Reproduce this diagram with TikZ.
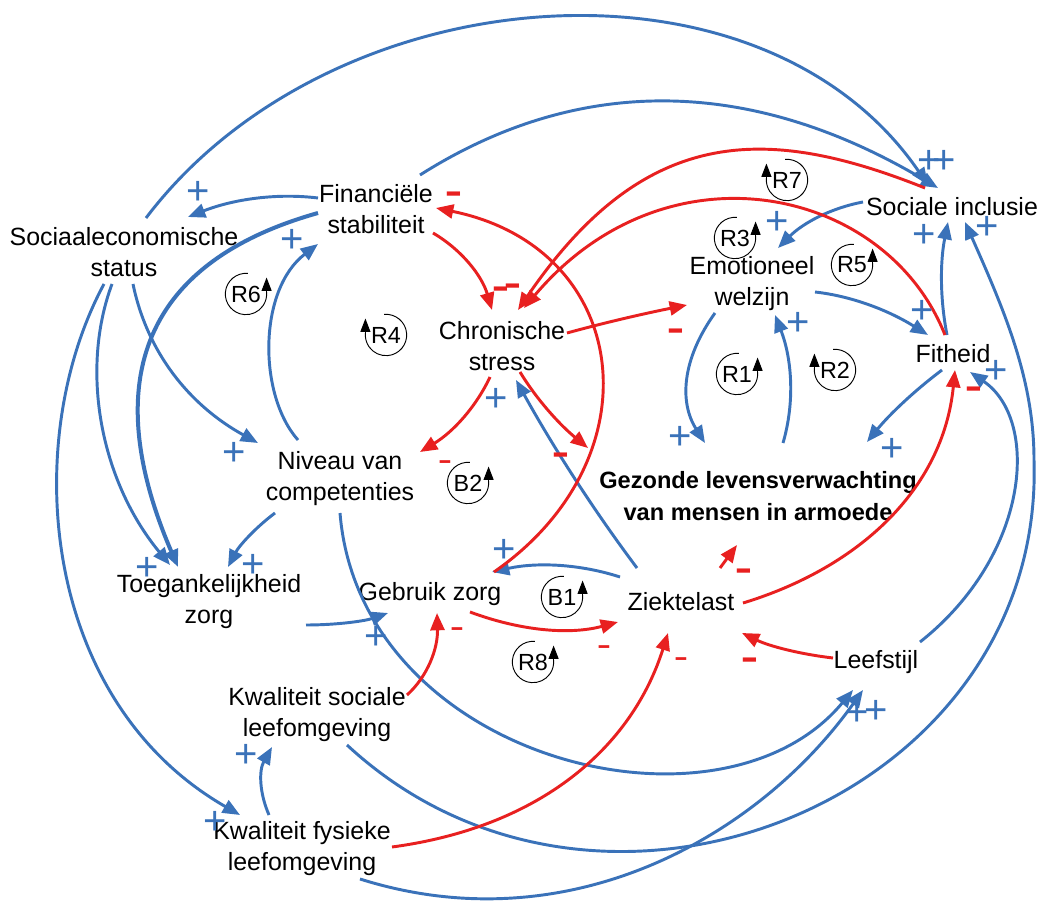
\documentclass[tikz,border=0pt]{standalone}
\usepackage{fontspec}
\setmainfont{Liberation Sans}
\usepackage{graphicx}
\usetikzlibrary{arrows.meta,calc}
\definecolor{cblue}{RGB}{58,114,185}
\definecolor{cred}{RGB}{232,32,32}
\begin{document}
\begin{tikzpicture}[x=0.75pt,y=-0.75pt,
  varnode/.style={font=\fontsize{18.7}{23.3}\selectfont, align=center, inner sep=0pt},
  goalnode/.style={font=\fontsize{17.7}{24.5}\selectfont\bfseries, align=center, inner sep=0pt},
  poslink/.style={draw=cblue, line width=2.2pt, -{Triangle[length=13pt,width=10.5pt]}},
  poslinkthick/.style={poslink, line width=3pt},
  neglink/.style={draw=cred, line width=2.2pt, -{Triangle[length=13pt,width=10.5pt]}},
  plussign/.style={text=cblue, font=\fontsize{30}{30}\selectfont, inner sep=0pt},
  minussign/.style={text=cred, font=\fontsize{20}{20}\selectfont\bfseries, inner sep=0pt},
  minusthin/.style={text=cred, font=\fontsize{16}{16}\selectfont\bfseries, inner sep=0pt},
  loopline/.style={draw=black, line width=0.7pt},
  looptip/.style={draw=black, line width=0.7pt, -{Triangle[length=10pt,width=7.5pt]}},
  looptext/.style={font=\fontsize{17.5}{20}\selectfont, inner sep=0pt},
  pics/loopL/.style={code={
    \draw[loopline] (95:15.5pt) arc[start angle=95,end angle=-185,radius=15.5pt];
    \draw[looptip] (175:15.5pt) -- ++(0pt,11pt);
    \node[looptext] (-t) at (0,0) {#1};
  }},
  pics/loopR/.style={code={
    \draw[loopline] (85:15.5pt) arc[start angle=85,end angle=365,radius=15.5pt];
    \draw[looptip] (5:15.5pt) -- ++(0pt,11pt);
    \node[looptext] (-t) at (0,0) {#1};
  }},
]
\useasboundingbox[fill=white] (0,0) rectangle (1042,912);

% variables
\node[varnode] (ses) at (124,252) {Sociaaleconomische\\status};
\node[varnode] (fin) at (376,209) {Financiële\\stabiliteit};
\node[varnode] (soc) at (952,207) {Sociale inclusie};
\node[varnode] (emo) at (752,284) {Emotioneel\\welzijn};
\node[varnode] (chr) at (502,346) {Chronische\\stress};
\node[varnode] (fit) at (953,354) {Fitheid};
\node[varnode] (niv) at (340,479) {Niveau van\\competenties};
\node[goalnode] (gez) at (758,496) {Gezonde levensverwachting\\van mensen in armoede};
\node[varnode] (toe) at (209,602) {Toegankelijkheid\\zorg};
\node[varnode] (geb) at (430,594) {Gebruik zorg};
\node[varnode] (zie) at (681,602) {Ziektelast};
\node[varnode] (lee) at (876,662) {Leefstijl};
\node[varnode] (kso) at (317,715) {Kwaliteit sociale\\leefomgeving};
\node[varnode] (kfy) at (302,849) {Kwaliteit fysieke\\leefomgeving};

% positive links
\draw[poslink] ($(ses)+(22,-34)$) .. controls (330,-25) and (760,-60) .. ($(soc)+(-24,-22)$);
\draw[poslink] ($(fin)+(44,-34)$) .. controls (581,73) and (753,78) .. ($(soc)+(-14,-19)$);
\draw[poslink] ($(fin)+(-58,-11)$) .. controls (277,193) and (234,199) .. ($(ses)+(64,-35)$);
\draw[poslinkthick] ($(fin)+(-58,4)$) .. controls (126,267) and (106,400) .. ($(toe)+(-31,-35)$);
\draw[poslink] ($(ses)+(-12,32)$) .. controls (80,370) and (100,480) .. ($(toe)+(-39,-37)$);
\draw[poslink] ($(ses)+(9,32)$) .. controls (147,352) and (189,405) .. ($(niv)+(-82,-36)$);
\draw[poslink] ($(ses)+(-20,32)$) .. controls (20,440) and (40,700) .. ($(kfy)+(-62,-34)$);
\draw[poslink] ($(niv)+(-42,-39)$) .. controls (258,395) and (258,290) .. ($(fin)+(-58,35)$);
\draw[poslink] ($(niv)+(-65,34)$) .. controls (255,528) and (239,546) .. ($(toe)+(19,-35)$);
\draw[poslink] ($(niv)+(0,34)$) .. controls (360,760) and (720,850) .. ($(lee)+(-23,28)$);
\draw[poslink] ($(kso)+(30,30)$) .. controls (600,980) and (1045,800) .. (1034,460)
  .. controls (1034,380) and (1005,312) .. ($(soc)+(13,15)$);
\draw[poslink] ($(kfy)+(58,30)$) .. controls (569,945) and (759,836) .. ($(lee)+(-13,28)$);
\draw[poslink] ($(kfy)+(-33,-34)$) .. controls (259,792) and (259,770) .. ($(kso)+(-45,32)$);
\draw[poslink] ($(toe)+(97,23)$) .. controls (337,625) and (365,621) .. ($(geb)+(-42,19)$);
\draw[poslink] ($(zie)+(-61,-25)$) .. controls (580,564) and (537,562) .. ($(geb)+(62,-22)$);
\draw[poslink] ($(zie)+(-44,-34)$) .. controls (592,508) and (552,445) .. ($(chr)+(14,34)$);
\draw[poslink] ($(emo)+(-37,29)$) .. controls (682,359) and (679,402) .. ($(gez)+(-53,-53)$);
\draw[poslink] ($(gez)+(25,-53)$) .. controls (795,402) and (792,359) .. ($(emo)+(23,31)$);
\draw[poslink] ($(emo)+(63,8)$) .. controls (851,296) and (888,310) .. ($(fit)+(-25,-19)$);
\draw[poslink] ($(fit)+(-11,16)$) .. controls (914,391) and (889,415) .. ($(gez)+(109,-54)$);
\draw[poslink] ($(fit)+(-6,-19)$) .. controls (940,299) and (940,262) .. ($(soc)+(-4,15)$);
\draw[poslink] ($(soc)+(-89,-5)$) .. controls (831,208) and (803,223) .. ($(emo)+(26,-36)$);
\draw[poslink] ($(lee)+(44,-20)$) .. controls (1030,555) and (1040,420) .. ($(fit)+(17,18)$);

% negative links
\draw[neglink] ($(fin)+(57,24)$) .. controls (462,250) and (482,276) .. ($(chr)+(-10,-36)$);
\draw[neglink] ($(geb)+(64,-22)$) .. controls (658,458) and (632,248) .. ($(fin)+(60,-1)$);
\draw[neglink] ($(soc)+(-27,-19)$) .. controls (767,125) and (645,124) .. ($(chr)+(16,-36)$);
\draw[neglink] ($(fit)+(-8,-19)$) .. controls (886,186) and (667,139) .. ($(chr)+(22,-38)$);
\draw[neglink] ($(chr)+(65,-13)$) .. controls (607,322) and (647,313) .. ($(emo)+(-65,21)$);
\draw[neglink] ($(chr)+(-12,31)$) .. controls (476,407) and (453,432) .. ($(niv)+(80,-27)$);
\draw[neglink] ($(chr)+(18,26)$) .. controls (537,400) and (560,425) .. ($(gez)+(-170,-48)$);
\draw[neglink] ($(zie)+(39,-34)$) -- ($(gez)+(-21,49)$);
\draw[neglink] ($(zie)+(62,1)$) .. controls (858,568) and (943,490) .. ($(fit)+(2,16)$);
\draw[neglink] ($(geb)+(40,18)$) .. controls (521,631) and (570,635) .. ($(zie)+(-63,20)$);
\draw[neglink] ($(kso)+(90,-20)$) .. controls (428,676) and (438,648) .. ($(geb)+(7,19)$);
\draw[neglink] ($(kfy)+(90,-2)$) .. controls (541,827) and (632,747) .. ($(zie)+(-13,31)$);
\draw[neglink] ($(lee)+(-43,-4)$) .. controls (799,654) and (769,646) .. ($(zie)+(61,31)$);

% polarity signs
\node[plussign] (p1) at (198,193) {+};
\node[plussign] (p2) at (292,241) {+};
\node[plussign] (p3) at (234,454) {+};
\node[plussign] (p4) at (147,569) {+};
\node[plussign] (p5) at (253,566) {+};
\node[plussign] (p6) at (376,638) {+};
\node[plussign] (p7) at (504,551) {+};
\node[plussign] (p8) at (496,400) {+};
\node[plussign] (p9) at (246,756) {+};
\node[plussign] (p10) at (215,823) {+};
\node[plussign] (p11) at (680,438) {+};
\node[plussign] (p12) at (798,324) {+};
\node[plussign] (p13) at (922,312) {+};
\node[plussign] (p14) at (892,450) {+};
\node[plussign] (p15) at (924,236) {+};
\node[plussign] (p16) at (987,228) {+};
\node[plussign] (p17) at (777,223) {+};
\node[plussign] (p18) at (929,162) {+};
\node[plussign] (p19) at (944,162) {+};
\node[plussign] (p20) at (996,372) {+};
\node[plussign] (p21) at (857,714) {+};
\node[plussign] (p22) at (876,712) {+};

\node[minussign] (m1) at (454,199) {\scalebox{1}[1.6]{–}};
\node[minussign] (m2) at (501,294) {\scalebox{1}[1.6]{–}};
\node[minussign] (m3) at (513,291) {\scalebox{1}[1.6]{–}};
\node[minussign] (m4) at (676,336) {\scalebox{1}[1.6]{–}};
\node[minusthin] (m5) at (445,465) {\scalebox{1}[1.3]{–}};
\node[minussign] (m6) at (561,460) {\scalebox{1}[1.6]{–}};
\node[minussign] (m7) at (744,576) {\scalebox{1}[1.6]{–}};
\node[minussign] (m8) at (974,394) {\scalebox{1}[1.6]{–}};
\node[minusthin] (m9) at (457,632) {\scalebox{1}[1.3]{–}};
\node[minusthin] (m10) at (604,650) {\scalebox{1}[1.3]{–}};
\node[minusthin] (m11) at (681,662) {\scalebox{1}[1.3]{–}};
\node[minussign] (m12) at (750,665) {\scalebox{1}[1.6]{–}};

% loop identifiers
\pic (r7) at (787,180) {loopL=R7};
\pic (r3) at (735,238) {loopR=R3};
\pic (r5) at (852,265) {loopR=R5};
\pic (r6) at (246,294) {loopR=R6};
\pic (r4) at (386,335) {loopL=R4};
\pic (r1) at (737,374) {loopR=R1};
\pic (r2) at (835,370) {loopL=R2};
\pic (b2) at (468,483) {loopR=B2};
\pic (b1) at (562,597) {loopR=B1};
\pic (r8) at (533,662) {loopR=R8};
\end{tikzpicture}
\end{document}
